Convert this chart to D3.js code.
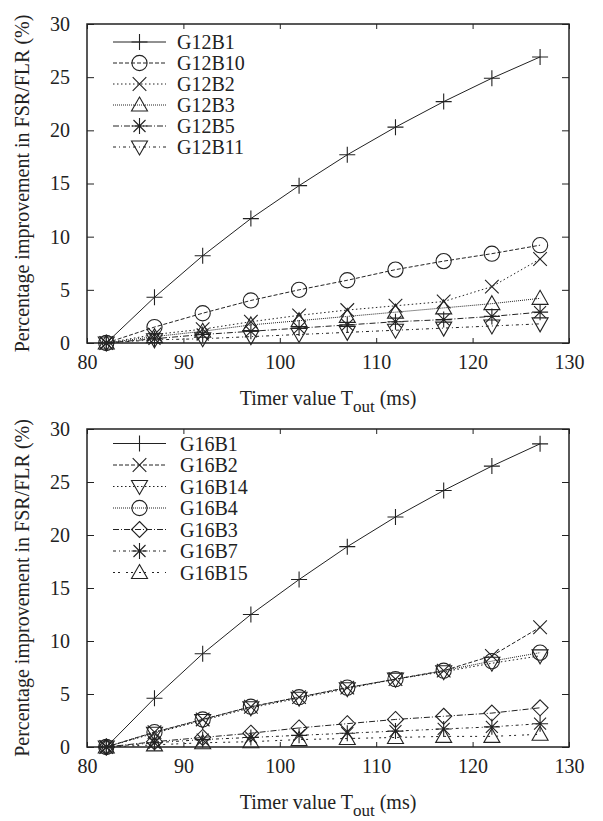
<!DOCTYPE html>
<html><head><meta charset="utf-8">
<script src="https://cdn.jsdelivr.net/npm/d3@7"></script>
<style>body{margin:0;background:#fff}svg{display:block}text{font-family:"Liberation Serif","Times New Roman",serif;fill:#222}</style>
</head><body><div id="chart"></div>
<script>
const xValues = [82, 87, 92, 97, 102, 107, 112, 117, 122, 127];
const xTicks = [80, 90, 100, 110, 120, 130];
const yTicks = [0, 5, 10, 15, 20, 25, 30];

const topNames = ["G12B1", "G12B10", "G12B2", "G12B3", "G12B5", "G12B11"];
const topMarkers = ["plus", "circle", "cross", "triUp", "star", "triDown"];
const topDashes = ["", "4,2", "1.5,2.5", "1,1", "6,2,1,2", "3,3,1,3"];
const G12B1 = [0, 4.3, 8.2, 11.7, 14.8, 17.7, 20.3, 22.7, 24.9, 26.9];
const G12B10 = [0, 1.5, 2.8, 4.0, 5.0, 5.9, 6.9, 7.7, 8.4, 9.2];
const G12B2 = [0, 0.8, 1.3, 2.0, 2.6, 3.1, 3.5, 3.9, 5.3, 7.9];
const G12B3 = [0, 0.6, 1.1, 1.7, 2.1, 2.5, 2.9, 3.3, 3.7, 4.2];
const G12B5 = [0, 0.4, 0.8, 1.1, 1.4, 1.7, 2.0, 2.2, 2.5, 2.9];
const G12B11 = [0, 0.3, 0.4, 0.6, 0.8, 1.0, 1.2, 1.4, 1.6, 1.8];
const topSeries = [G12B1, G12B10, G12B2, G12B3, G12B5, G12B11];

const botNames = ["G16B1", "G16B2", "G16B14", "G16B4", "G16B3", "G16B7", "G16B15"];
const botMarkers = ["plus", "cross", "triDown", "circle", "diamond", "star", "triUp"];
const botDashes = ["", "4,2", "1.5,2.5", "1,1", "6,2,1,2", "3,3,1,3", "2,3,2,6"];
const G16B1 = [0, 4.6, 8.8, 12.5, 15.8, 18.9, 21.7, 24.2, 26.5, 28.6];
const G16B2 = [0, 1.4, 2.6, 3.8, 4.7, 5.6, 6.4, 7.2, 8.6, 11.3];
const G16B14 = [0, 1.3, 2.5, 3.7, 4.6, 5.5, 6.4, 7.1, 7.9, 8.6];
const G16B4 = [0, 1.4, 2.6, 3.8, 4.7, 5.6, 6.4, 7.2, 8.1, 8.9];
const G16B3 = [0, 0.5, 0.9, 1.3, 1.8, 2.2, 2.6, 2.9, 3.2, 3.7];
const G16B7 = [0, 0.4, 0.7, 0.9, 1.1, 1.3, 1.5, 1.7, 1.9, 2.2];
const G16B15 = [0, 0.2, 0.4, 0.5, 0.7, 0.8, 0.9, 1.0, 1.0, 1.2];
const botSeries = [G16B1, G16B2, G16B14, G16B4, G16B3, G16B7, G16B15];

const yTitle = "Percentage improvement in FSR/FLR (%)";

const W = 603, H = 821;
const svg = d3.select("#chart").append("svg").attr("width", W).attr("height", H);
const ink = "#222";

function markerPath(type, s) {
  const p = d3.path();
  if (type === "plus" || type === "star") {
    p.moveTo(-s, 0); p.lineTo(s, 0); p.moveTo(0, -s); p.lineTo(0, s);
  }
  if (type === "cross" || type === "star") {
    const c = type === "star" ? s * 0.75 : s * 0.85;
    p.moveTo(-c, -c); p.lineTo(c, c); p.moveTo(-c, c); p.lineTo(c, -c);
  }
  if (type === "circle") { p.moveTo(s * 0.95, 0); p.arc(0, 0, s * 0.95, 0, 2 * Math.PI); }
  if (type === "triUp") { p.moveTo(0, -s); p.lineTo(s, s * 0.75); p.lineTo(-s, s * 0.75); p.closePath(); }
  if (type === "triDown") { p.moveTo(0, s); p.lineTo(s, -s * 0.75); p.lineTo(-s, -s * 0.75); p.closePath(); }
  if (type === "diamond") { p.moveTo(0, -s); p.lineTo(s, 0); p.lineTo(0, s); p.lineTo(-s, 0); p.closePath(); }
  return p.toString();
}

function drawChart(top, bottom, names, markers, dashes, series, legendTop, legendStep, legendTextX) {
  const left = 87, right = 569;
  const x = d3.scaleLinear().domain([80, 130]).range([left, right]);
  const y = d3.scaleLinear().domain([0, 30]).range([bottom, top]);
  const g = svg.append("g");

  const axB = d3.axisBottom(x).tickValues(xTicks).tickSize(-5).tickPadding(12).tickFormat(d3.format("d"));
  const axT = d3.axisTop(x).tickValues(xTicks).tickSize(-5).tickFormat("");
  const axL = d3.axisLeft(y).tickValues(yTicks).tickSize(-7).tickPadding(17).tickFormat(d3.format("d"));
  const axR = d3.axisRight(y).tickValues(yTicks).tickSize(-7).tickFormat("");
  [[axB, `translate(0,${bottom})`], [axT, `translate(0,${top})`], [axL, `translate(${left},0)`], [axR, `translate(${right},0)`]].forEach(([a, t]) => {
    const ag = g.append("g").attr("transform", t).call(a);
    ag.select(".domain").remove();
    ag.selectAll("line").attr("stroke", ink).attr("stroke-width", 1);
    ag.selectAll("text").attr("font-size", 20).attr("fill", ink).style("font-family", "'Liberation Serif', serif");
  });
  g.append("rect").attr("x", left).attr("y", top).attr("width", right - left).attr("height", bottom - top)
    .attr("fill", "none").attr("stroke", ink).attr("stroke-width", 1.5);

  const line = d3.line().x((d, i) => x(xValues[i])).y(d => y(d));
  series.forEach((vals, k) => {
    g.append("path").attr("d", line(vals)).attr("fill", "none").attr("stroke", ink)
      .attr("stroke-width", 1).attr("stroke-dasharray", dashes[k] || null);
    g.selectAll(null).data(vals).enter().append("path")
      .attr("transform", (d, i) => `translate(${x(xValues[i])},${y(d)})`)
      .attr("d", markerPath(markers[k], 8)).attr("fill", "none").attr("stroke", ink).attr("stroke-width", 1.1);
  });

  names.forEach((n, k) => {
    const ly = legendTop + k * legendStep;
    g.append("line").attr("x1", 113).attr("x2", 166).attr("y1", ly).attr("y2", ly)
      .attr("stroke", ink).attr("stroke-width", 1).attr("stroke-dasharray", dashes[k] || null);
    g.append("path").attr("transform", `translate(139.5,${ly})`).attr("d", markerPath(markers[k], 8))
      .attr("fill", "none").attr("stroke", ink).attr("stroke-width", 1.1);
    g.append("text").attr("x", legendTextX).attr("y", ly).attr("dy", "0.35em").attr("font-size", 20).text(n);
  });

  const xt = g.append("text").attr("x", 328).attr("y", bottom + 62).attr("text-anchor", "middle").attr("font-size", 20);
  xt.append("tspan").text("Timer value T");
  xt.append("tspan").attr("font-size", 17).attr("dy", 7).text("out");
  xt.append("tspan").attr("dy", -7).text(" (ms)");
  g.append("text").attr("transform", `translate(29,${(top + bottom) / 2}) rotate(-90)`)
    .attr("text-anchor", "middle").attr("font-size", 20).text(yTitle);
}

drawChart(24, 343, topNames, topMarkers, topDashes, topSeries, 42, 21, 177);
drawChart(429, 747, botNames, botMarkers, botDashes, botSeries, 443.5, 21.5, 180);
</script></body></html>
